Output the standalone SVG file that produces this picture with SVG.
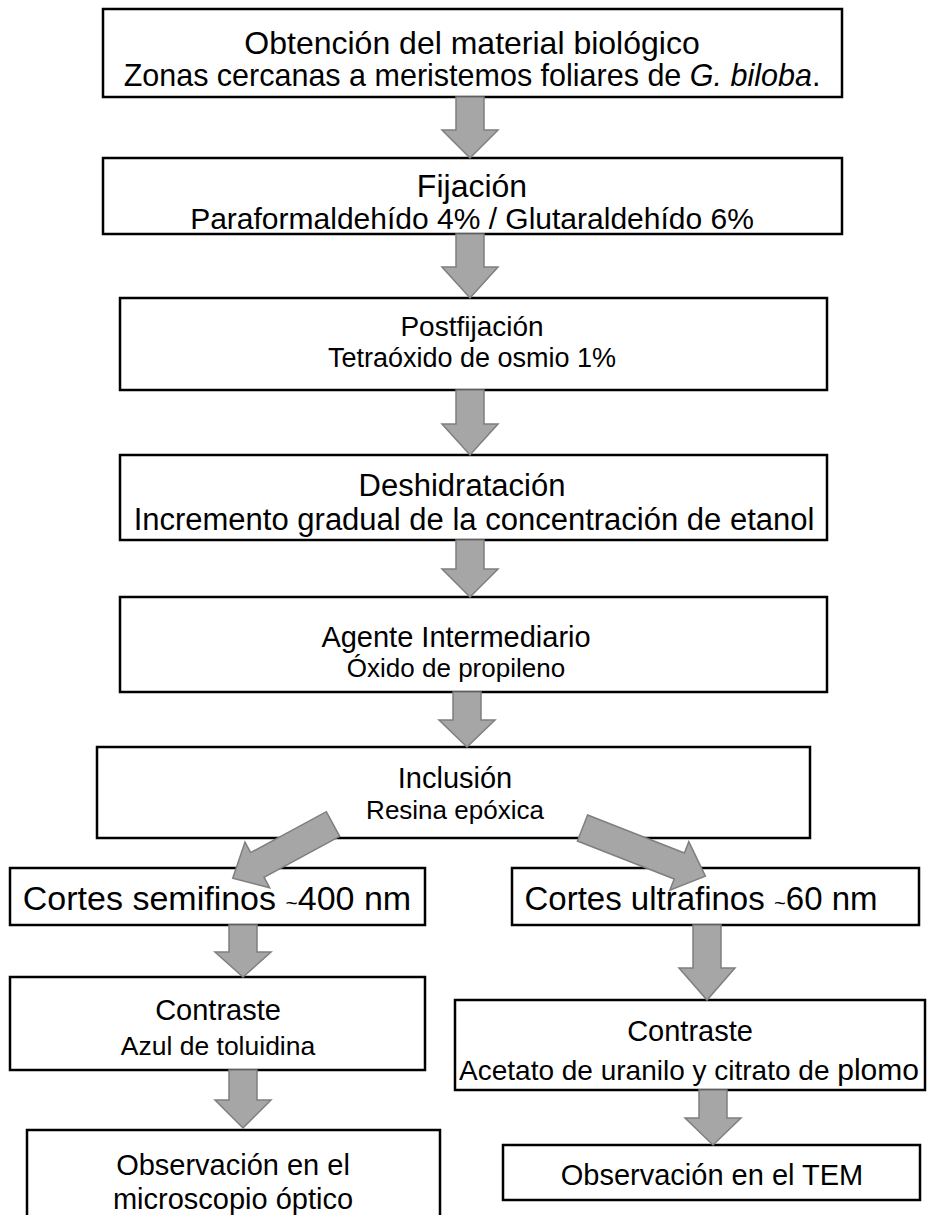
<svg xmlns="http://www.w3.org/2000/svg" width="928" height="1215" viewBox="0 0 928 1215">
<style>
.box{fill:#fff;stroke:#000;stroke-width:2.5}
.arr{fill:#a6a6a6;stroke:#7f7f7f;stroke-width:1.5;stroke-linejoin:miter}
.t{font-family:"Liberation Sans",Arial,sans-serif;font-size:29px;fill:#000;text-anchor:middle}
.s{font-family:"Liberation Sans",Arial,sans-serif;font-size:26px;fill:#000;text-anchor:middle}
.tl{font-size:0.62em}
</style>
<rect width="928" height="1215" fill="#fff"/>
<g id="n1">
<rect class="box" x="103" y="9" width="739" height="88"/>
<text class="t" x="472" y="54" style="font-size:32px">Obtención del material biológico</text>
<text class="s" x="472" y="86" style="font-size:30.5px">Zonas cercanas a meristemos foliares de <tspan font-style="italic">G. biloba</tspan>.</text>
</g>
<g id="n2">
<rect class="box" x="103" y="158" width="739" height="76"/>
<text class="t" x="472" y="197" style="font-size:32px">Fijación</text>
<text class="s" x="472" y="229" style="font-size:30px">Paraformaldehído 4% / Glutaraldehído 6%</text>
</g>
<g id="n3">
<rect class="box" x="120" y="298" width="707" height="92"/>
<text class="t" x="472" y="336" style="font-size:28px">Postfijación</text>
<text class="s" x="472" y="367" style="font-size:27px">Tetraóxido de osmio 1%</text>
</g>
<g id="n4">
<rect class="box" x="120" y="455" width="707" height="85"/>
<text class="t" x="462" y="496" style="font-size:31px">Deshidratación</text>
<text class="s" x="474" y="530" style="font-size:31px">Incremento gradual de la concentración de etanol</text>
</g>
<g id="n5">
<rect class="box" x="120" y="597" width="707" height="95"/>
<text class="t" x="456" y="647">Agente Intermediario</text>
<text class="s" x="456" y="677">Óxido de propileno</text>
</g>
<g id="n6">
<rect class="box" x="97" y="747" width="713" height="91"/>
<text class="t" x="455" y="788">Inclusión</text>
<text class="s" x="455" y="819">Resina epóxica</text>
</g>
<g id="n7">
<rect class="box" x="10" y="868" width="415" height="57"/>
<text class="t" x="217" y="910" style="font-size:34px">Cortes semifinos <tspan class="tl">~</tspan>400 nm</text>
</g>
<g id="n8">
<rect class="box" x="512" y="868" width="407" height="57"/>
<text class="t" x="701" y="910" style="font-size:33px">Cortes ultrafinos <tspan class="tl">~</tspan>60 nm</text>
</g>
<g id="n9">
<rect class="box" x="10" y="977" width="415" height="93"/>
<text class="t" x="218" y="1020">Contraste</text>
<text class="s" x="218" y="1055" style="font-size:26.5px">Azul de toluidina</text>
</g>
<g id="n10">
<rect class="box" x="455" y="1000" width="470" height="90"/>
<text class="t" x="690" y="1041">Contraste</text>
<text class="s" x="689" y="1080" style="font-size:28px">Acetato de uranilo y citrato de <tspan style="font-size:30px">plomo</tspan></text>
</g>
<g id="n11">
<rect class="box" x="27" y="1130" width="413" height="95"/>
<text class="t" x="233" y="1175">Observación en el</text>
<text class="t" x="233" y="1209">microscopio óptico</text>
</g>
<g id="n12">
<rect class="box" x="503" y="1145" width="417" height="55"/>
<text class="t" x="712" y="1185">Observación en el TEM</text>
</g>
<g id="connectors">
<path class="arr" d="M456,97 L484,97 L484,130 L498,130 L470,158 L442,130 L456,130 Z"/>
<path class="arr" d="M456,234 L484,234 L484,267 L498,267 L470,298 L442,267 L456,267 Z"/>
<path class="arr" d="M456,390 L484,390 L484,424 L498,424 L470,455 L442,424 L456,424 Z"/>
<path class="arr" d="M456,540 L484,540 L484,569 L498,569 L470,597 L442,569 L456,569 Z"/>
<path class="arr" d="M453,692 L481,692 L481,720 L495,720 L467,747 L439,720 L453,720 Z"/>
<path class="arr" transform="translate(333,824) rotate(151.6)" d="M0,-14 L86,-14 L86,-26 L114,0 L86,26 L86,14 L0,14 Z"/>
<path class="arr" transform="translate(582.5,828) rotate(21.4)" d="M0,-14 L104,-14 L104,-26 L132,0 L104,26 L104,14 L0,14 Z"/>
<path class="arr" d="M229,925 L257,925 L257,952 L271,952 L243,977 L215,952 L229,952 Z"/>
<path class="arr" d="M229,1070 L257,1070 L257,1100 L271,1100 L243,1128 L215,1100 L229,1100 Z"/>
<path class="arr" d="M693,925 L721,925 L721,968 L735,968 L707,1000 L679,968 L693,968 Z"/>
<path class="arr" d="M699,1090 L727,1090 L727,1118 L741,1118 L713,1145 L685,1118 L699,1118 Z"/>
</g>
</svg>
